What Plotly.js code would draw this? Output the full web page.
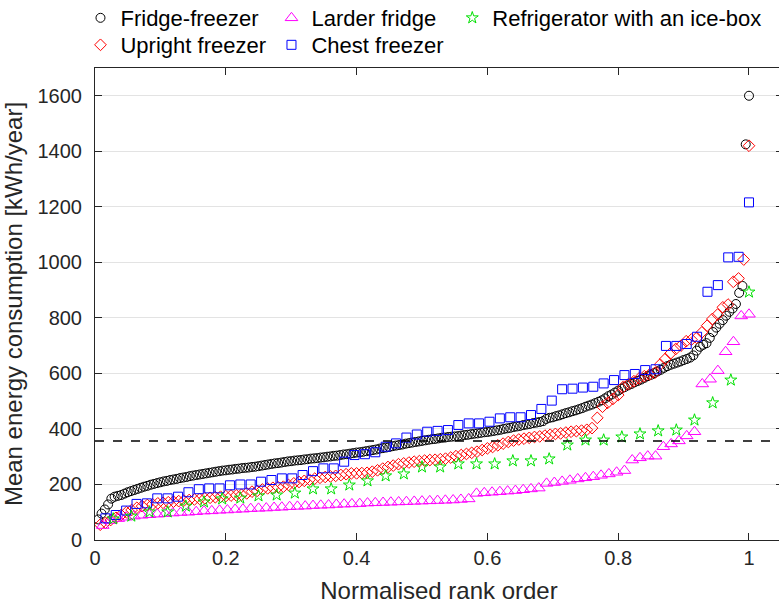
<!DOCTYPE html>
<html>
<head>
<meta charset="utf-8">
<script src="https://cdn.plot.ly/plotly-3.0.1.min.js"></script>
<style>
html, body { margin: 0; padding: 0; overflow: hidden; background: #fff; }
#chart { width: 783px; height: 605px; }
</style>
</head>
<body>
<div id="chart"></div>
<script>
// ---- Data ----
const seriesNames = ["Fridge-freezer", "Upright freezer", "Larder fridge", "Chest freezer", "Refrigerator with an ice-box"];

const fridgeFreezer = [
 74, 95, 110, 128, 149, 156, 159, 162, 167, 172,
 176, 180, 184, 188, 192, 195, 199, 202, 205, 208,
 211, 213, 216, 218, 220, 223, 225, 227, 230, 232,
 234, 236, 238, 240, 242, 244, 246, 248, 250, 251,
 253, 254, 256, 257, 259, 260, 261, 263, 264, 266,
 268, 270, 272, 274, 276, 277, 279, 281, 283, 284,
 286, 287, 288, 290, 291, 293, 294, 295, 297, 298,
 300, 301, 303, 304, 306, 308, 309, 311, 313, 315,
 316, 318, 320, 322, 324, 326, 329, 331, 333, 335,
 338, 340, 342, 344, 347, 349, 351, 353, 355, 357,
 359, 361, 363, 364, 366, 368, 369, 371, 372, 373,
 374, 376, 378, 379, 381, 383, 384, 386, 388, 389,
 391, 393, 395, 397, 400, 402, 404, 407, 409, 411,
 414, 416, 418, 421, 423, 425, 428, 436, 440, 442,
 446, 449, 453, 457, 460, 464, 467, 471, 475, 480,
 484, 488, 493, 498, 503, 510, 518, 524, 531, 538,
 545, 551, 557, 562, 568, 573, 578, 584, 590, 595,
 601, 607, 613, 620, 626, 631, 635, 639, 643, 648,
 652, 657, 665, 682, 696, 703, 709, 728, 749, 765,
 779, 792, 808, 822, 834, 850, 890, 915, 1425, 1600
];

const uprightFreezer = [
 55, 62, 72, 80, 90, 100, 108, 116, 122, 126,
 129, 132, 134, 136, 138, 140, 142, 144, 146, 148,
 150, 152, 154, 156, 158, 160, 161, 163, 168, 174,
 177, 182, 186, 188, 190, 192, 198, 204, 209, 213,
 217, 221, 224, 227, 229, 231, 234, 237, 240, 240,
 241, 242, 246, 251, 257, 263, 268, 273, 276, 279,
 282, 284, 286, 288, 289, 291, 293, 297, 302, 306,
 310, 314, 318, 324, 330, 335, 341, 347, 353, 358,
 362, 365, 368, 371, 373, 376, 379, 382, 384, 387,
 390, 392, 394, 397, 403, 440, 480, 494, 508, 522,
 552, 562, 572, 582, 590, 596, 602, 632, 652, 672,
 688, 700, 716, 722, 728, 748, 772, 796, 812, 838,
 848, 930, 942, 1010, 1420
];

const larderFridge = [
 52, 70, 77, 82, 86, 89, 91, 93, 95, 97,
 99, 100, 102, 104, 105, 107, 108, 110, 111, 113,
 114, 115, 117, 118, 120, 121, 122, 124, 125, 126,
 128, 129, 130, 131, 133, 134, 135, 136, 137, 138,
 139, 140, 141, 142, 143, 144, 146, 148, 168, 170,
 172, 174, 176, 178, 181, 184, 187, 204, 207, 211,
 215, 220, 224, 228, 233, 238, 244, 250, 288, 296,
 302, 302, 336, 346, 357, 375, 390, 562, 579, 610,
 678, 714, 807, 813
];

const chestFreezer = [
 78, 90, 106, 130, 132, 150, 150, 156, 172, 183,
 186, 186, 197, 200, 200, 210, 216, 222, 222, 234,
 248, 258, 258, 282, 306, 309, 316, 336, 348, 369,
 380, 390, 393, 396, 414, 420, 420, 426, 438, 442,
 442, 450, 472, 502, 543, 545, 549, 552, 564, 576,
 594, 598, 612, 615, 699, 699, 706, 732, 894, 918,
 1018, 1020, 1216
];

const iceBox = [
 76, 86, 101, 101, 122, 137, 148, 151, 159, 162,
 169, 184, 184, 198, 213, 231, 238, 263, 263, 274,
 274, 274, 285, 285, 292, 342, 360, 360, 371, 382,
 393, 396, 432, 494, 576, 893
];

const threshold = 357;
const xTickVals = [0, 0.2, 0.4, 0.6, 0.8, 1];
const xTickText = ["0", "0.2", "0.4", "0.6", "0.8", "1"];
const yTickVals = [0, 200, 400, 600, 800, 1000, 1200, 1400, 1600];
const yTickText = ["0", "200", "400", "600", "800", "1000", "1200", "1400", "1600"];

// normalised rank order of each value in its own sorted series
function ranks(arr) { return arr.map((_, i) => (i + 1) / arr.length); }

const seriesData = [fridgeFreezer, uprightFreezer, larderFridge, chestFreezer, iceBox];
const styles = [
  { symbol: 'circle-open', color: '#000000', size: 9, legend: 'legend', rank: 1 },
  { symbol: 'diamond-open', color: '#ff0000', size: 9, legend: 'legend2', rank: 1 },
  { symbol: 'triangle-up-open', color: '#ff00ff', size: 11, legend: 'legend', rank: 2 },
  { symbol: 'square-open', color: '#0000ff', size: 9, legend: 'legend2', rank: 2 },
  { symbol: 'star-open', color: '#00e000', size: 9, legend: 'legend3', rank: 1 }
];

const traces = seriesData.map((vals, k) => ({
  type: 'scatter',
  mode: 'markers',
  name: seriesNames[k],
  x: ranks(vals),
  y: vals,
  legend: styles[k].legend,
  legendrank: styles[k].rank,
  marker: { symbol: styles[k].symbol, size: styles[k].size, color: styles[k].color,
            line: { color: styles[k].color, width: 1 } },
  hoverinfo: 'x+y+name'
}));

const axisColor = '#262626';
const legendCommon = {
  orientation: 'h', x: -0.0211, xanchor: 'left', yanchor: 'middle',
  entrywidth: 146, entrywidthmode: 'pixels', traceorder: 'normal',
  font: { size: 22, color: '#000000' }, bgcolor: 'rgba(0,0,0,0)', itemwidth: 30
};
const layout = {
  width: 783, height: 605,
  margin: { l: 94.5, r: 0, t: 68, b: 65, pad: 0, autoexpand: false },
  paper_bgcolor: '#ffffff', plot_bgcolor: '#ffffff',
  font: { family: '"Liberation Sans", Arial, Helvetica, sans-serif', color: axisColor, size: 20 },
  showlegend: true,
  legend: Object.assign({}, legendCommon, { y: 1.1059 }),
  legend2: Object.assign({}, legendCommon, { y: 1.0487 }),
  legend3: {
    orientation: 'h', x: 0.5193, xanchor: 'left', yanchor: 'middle', y: 1.1059,
    font: { size: 22, color: '#000000' }, bgcolor: 'rgba(0,0,0,0)', itemwidth: 30
  },
  xaxis: {
    range: [0, 1.052], tickvals: xTickVals, ticktext: xTickText,
    ticks: 'inside', ticklen: 7, tickcolor: axisColor, mirror: 'ticks',
    showline: true, linecolor: axisColor, linewidth: 1,
    showgrid: false, zeroline: false, ticklabelstandoff: 0,
    tickfont: { size: 20, color: axisColor },
    title: { text: 'Normalised rank order', font: { size: 24, color: axisColor }, standoff: 14 }
  },
  yaxis: {
    range: [0, 1700], tickvals: yTickVals, ticktext: yTickText,
    ticks: 'inside', ticklen: 7, tickcolor: axisColor, mirror: 'ticks',
    showline: true, linecolor: axisColor, linewidth: 1,
    showgrid: true, gridcolor: '#e3e3e3', gridwidth: 1, zeroline: false,
    ticklabelstandoff: 8,
    tickfont: { size: 20, color: axisColor },
    title: { text: 'Mean energy consumption [kWh/year]', font: { size: 24, color: axisColor }, standoff: 10 }
  },
  shapes: [{
    type: 'line', xref: 'paper', x0: 0, x1: 1, yref: 'y', y0: threshold, y1: threshold,
    line: { color: '#000000', width: 1.5, dash: 'dash' }, layer: 'above'
  }]
};

Plotly.newPlot('chart', traces, layout, { displayModeBar: false, responsive: false });
</script>
</body>
</html>
